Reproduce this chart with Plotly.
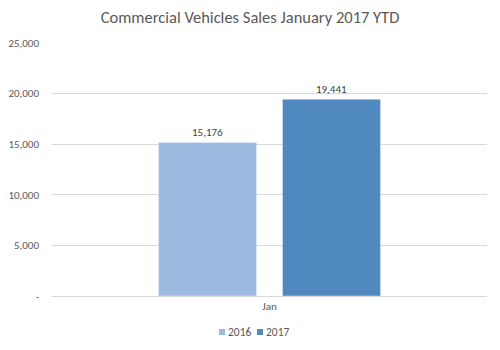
import plotly.graph_objects as go

categories = ["Jan"]
series_names = ["2016", "2017"]
values_2016 = [15176]
values_2017 = [19441]
tick_vals = [0, 5000, 10000, 15000, 20000, 25000]
tick_text = ["-", "5,000", "10,000", "15,000", "20,000", "25,000"]
colors = ["#9DBBE1", "#4F89BF"]

fig = go.Figure()
for name, vals, col in zip(series_names, [values_2016, values_2017], colors):
    fig.add_trace(go.Bar(
        x=categories, y=vals, name=name, marker_color=col,
        text=[f"{v:,}" for v in vals], textposition="outside",
        textfont=dict(size=11, color="#404040"), cliponaxis=False,
        showlegend=False,
    ))

# compact legend (square swatch + label) placed below the axis, as in the reference
plot_l, plot_w, plot_b, plot_h = 52, 435, 296, 253
legend_left_px = [219, 257]
legend_y_px = 332
shapes, annotations = [], []
for name, col, lx in zip(series_names, colors, legend_left_px):
    shapes.append(dict(type="rect", xref="paper", yref="paper",
                       x0=(lx - plot_l) / plot_w, x1=(lx + 6 - plot_l) / plot_w,
                       y0=(plot_b - legend_y_px + 3) / plot_h, y1=(plot_b - legend_y_px - 3) / plot_h,
                       fillcolor=col, line=dict(width=0)))
    annotations.append(dict(text=name, xref="paper", yref="paper",
                            x=(lx + 7 - plot_l) / plot_w, y=(plot_b - legend_y_px) / plot_h,
                            xanchor="left", yanchor="middle", showarrow=False,
                            font=dict(size=11.5, color="#595959")))

font_family = "Carlito, Calibri, 'Open Sans', sans-serif"
fig.update_layout(
    width=500, height=350,
    margin=dict(l=52, r=13, t=43, b=54, autoexpand=False),
    paper_bgcolor="white", plot_bgcolor="white",
    font=dict(family=font_family, color="#595959", size=11),
    title=dict(text="Commercial Vehicles Sales January 2017 YTD", x=0.5, xanchor="center",
               y=0.95, yanchor="middle", font=dict(size=16.5, color="#595959")),
    barmode="group", bargap=0.43, bargroupgap=0.21,
    showlegend=False,
    shapes=shapes,
    annotations=annotations,
    xaxis=dict(showline=True, linecolor="#D9D9D9", ticks="", tickfont=dict(size=11)),
    yaxis=dict(range=[0, 25000], tickvals=tick_vals, ticktext=tick_text,
               showgrid=True, gridcolor="#D9D9D9", zeroline=False, ticks="",
               tickfont=dict(size=11), ticklabelstandoff=12),
)
fig.write_html("out.html")
